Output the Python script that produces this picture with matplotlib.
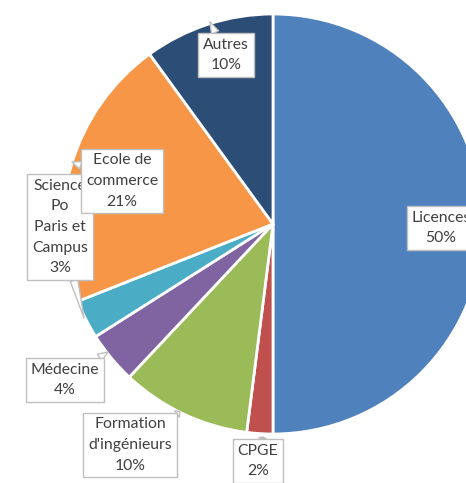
import matplotlib.pyplot as plt

# Répartition des étudiants par filière
labels = ["Licences", "CPGE", "Formation\nd'ingénieurs", "Médecine",
          "Science\nPo\nParis et\nCampus", "Ecole de\ncommerce", "Autres"]
values = [50, 2, 10, 4, 3, 21, 10]
colors = ["#4F81BD", "#C0504D", "#9BBB59", "#8064A2",
          "#4BACC6", "#F79646", "#2C4D75"]

# label box centres and callout tips, in pixels from the top-left corner
label_pos = [(441, 228), (258, 461), (130, 445), (65, 380),
             (60, 227), (122, 181), (226, 55)]
tip_pos = [None, (263, 437), (180, 412), (108, 352),
           (84, 318), (72, 162), (210, 22)]

W, H = 466, 483
fig = plt.figure(figsize=(W / 100, H / 100), dpi=100)
ax = fig.add_axes([0, 0, 1, 1])

ax.pie(values, colors=colors, startangle=90, counterclock=False,
       center=(273, H - 224), radius=210,
       wedgeprops=dict(edgecolor="white", linewidth=2))
ax.set_xlim(0, W)
ax.set_ylim(0, H)
ax.axis("off")

box = dict(boxstyle="square,pad=0.3", fc="white", ec="#bfbfbf", lw=1)
for lab, v, (x, y), tip in zip(labels, values, label_pos, tip_pos):
    txt = f"{lab}\n{v}%"
    kw = dict(ha="center", va="center", fontsize=11.3, color="#404040",
              family="Lato", linespacing=1.6, bbox=box, zorder=5)
    if tip is None:
        ax.text(x, H - y, txt, **kw)
    else:
        ax.annotate(txt, xy=(tip[0], H - tip[1]), xytext=(x, H - y),
                    arrowprops=dict(arrowstyle="wedge,tail_width=0.5",
                                    fc="white", ec="#bfbfbf", lw=1,
                                    shrinkA=0, shrinkB=0),
                    **kw)

fig.savefig("out.png", dpi=100)
